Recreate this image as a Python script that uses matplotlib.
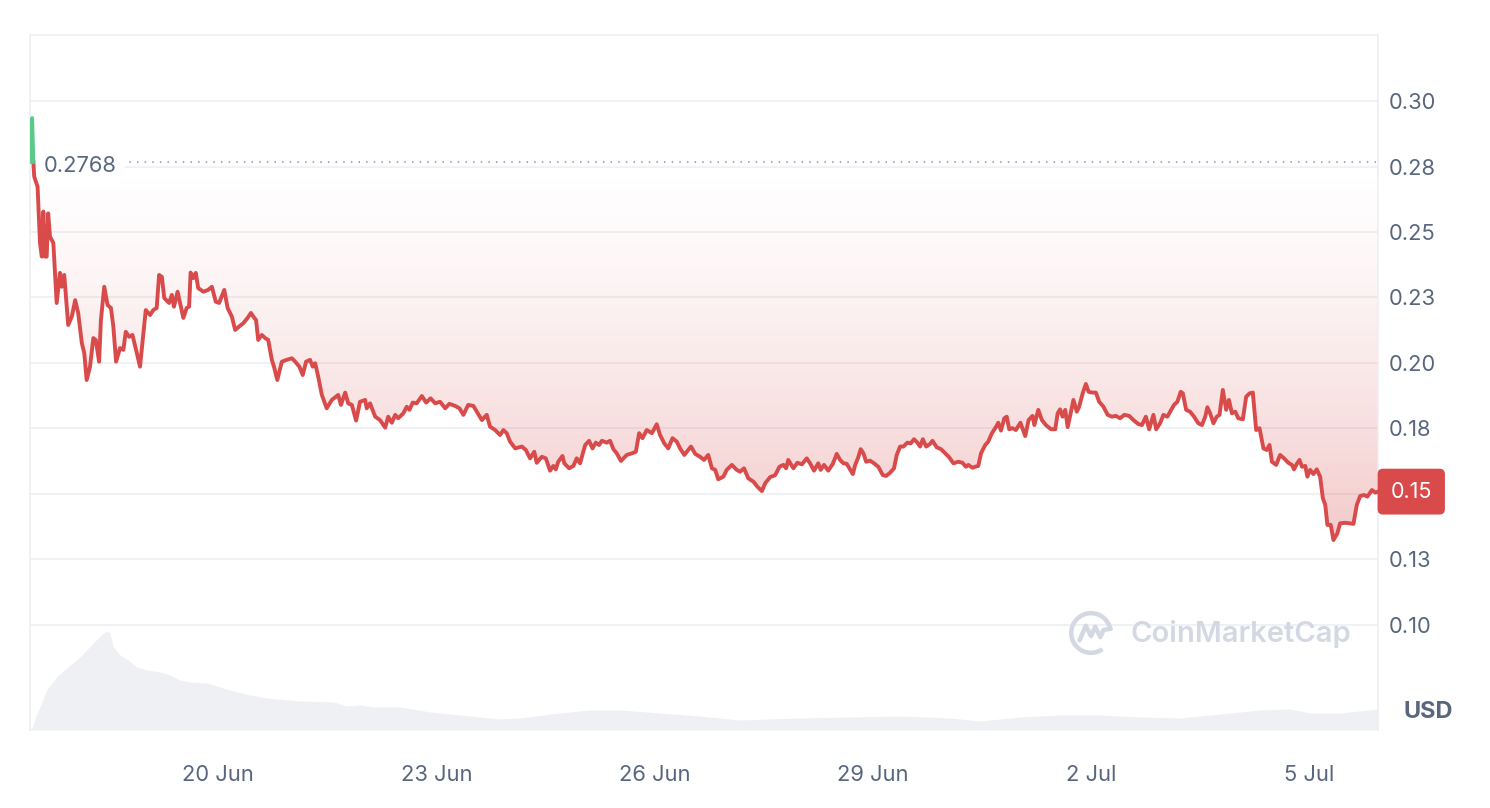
import numpy as np
import pandas as pd
import matplotlib
matplotlib.use("Agg")
import matplotlib.pyplot as plt
import matplotlib.dates as mdates
from matplotlib.path import Path
from matplotlib.patches import Arc

plt.rcParams['font.family'] = ['Inter', 'DejaVu Sans']

# price series: hours after 2024-06-17 00:00, price in USD
start = pd.Timestamp('2024-06-17')
hours = [
    9.9, 10.6, 11.0, 11.3, 12.4, 13.2, 13.8, 14.3, 14.9, 15.4, 15.9, 16.5, 17.6, 18.7, 19.8, 20.4,
    21.2, 22.5, 23.7, 24.8, 25.8, 27.0, 27.8, 28.6, 29.7, 30.8, 31.6, 32.7, 33.3, 34.4, 35.5, 36.6,
    37.4, 38.3, 39.6, 40.7, 41.5, 42.6, 43.7, 44.9, 46.2, 47.0, 48.1, 49.5, 50.6, 51.7, 52.5, 53.4,
    54.2, 55.8, 56.7, 57.4, 58.6, 60.5, 61.6, 62.4, 62.9, 63.8, 64.6, 65.4, 67.1, 68.7, 69.9, 71.2,
    72.3, 74.0, 75.1, 76.5, 77.6, 78.9, 80.3, 81.7, 82.8, 83.9,
    84.5, 85.2, 86.4, 87.5, 88.5, 89.7, 90.4, 91.5, 93.0, 94.6, 96.3, 97.4, 98.8, 99.9, 101.0, 102.3,
    103.2, 104.0, 105.0, 106.2, 107.8, 109.5, 111.6, 112.5, 113.9, 114.9, 116.1, 117.5, 118.8, 120.5,
    121.0, 122.1, 123.8, 125.4, 127.1, 128.1, 129.3, 130.4, 131.4, 133.1, 134.2, 135.1, 136.2, 137.5,
    139.2, 140.6, 142.1, 143.6, 145.2, 146.9, 148.3, 150.2, 151.6, 152.9, 154.5, 156.2,
    159.0, 160.6, 161.7, 163.4, 165.0, 166.1, 167.2, 168.3, 170.0, 172.2, 173.5, 174.9, 176.3, 177.1,
    178.8, 180.1, 181.5, 182.6, 183.4, 184.2, 185.6, 186.2, 187.8, 189.2, 190.3, 191.4, 193.1, 194.4,
    195.5, 196.6, 197.7, 198.6, 200.2, 201.3, 202.4, 203.5, 204.9, 206.8, 208.5, 209.8, 210.9, 212.0,
    213.4, 215.1, 216.7, 217.8, 219.2, 220.5, 221.9, 223.3, 224.4, 225.8, 228.0, 229.4,
    231.0, 232.3, 233.7, 234.9, 236.0, 237.0, 238.7, 239.8, 241.5, 243.1, 244.2, 245.5, 246.9, 248.6,
    249.9, 251.4, 252.5, 254.1, 255.8, 257.2, 258.5, 259.4, 260.1, 261.8, 263.1, 264.6, 266.2, 267.3,
    268.6, 270.0, 270.8, 271.9, 273.3, 274.8, 276.1, 277.2, 278.3, 279.4, 280.5, 281.4, 282.2, 283.2,
    284.0, 284.9, 285.8, 287.1, 288.4, 289.8, 291.3, 292.4, 293.7, 295.0, 295.9, 297.0, 298.1, 299.4,
    300.5, 301.6, 302.7, 303.6, 304.5, 305.6, 306.9,
    307.7, 309.1, 310.5, 311.9, 313.2, 314.6, 316.2, 317.6, 318.7, 319.5, 320.9, 321.8, 322.8, 323.7,
    325.1, 326.1, 327.3, 328.6, 329.4, 330.3, 331.4, 332.2, 333.0, 334.1, 335.2, 336.7, 338.3, 339.4,
    340.7, 341.3, 342.6, 343.8, 345.1, 346.8, 348.2, 349.0, 349.8, 350.6, 351.5, 352.3, 353.4, 354.2,
    355.3, 356.1, 357.2, 358.3, 359.2, 360.3, 361.6, 362.7, 364.1, 365.5, 366.9, 368.2, 369.6, 371.0,
    372.6, 374.0, 375.6, 376.8, 378.1, 379.2,
    380.6, 381.5, 382.8, 383.9, 385.2, 386.3, 387.4, 388.5, 389.6, 390.3, 391.4, 392.7, 394.0, 395.4,
    396.6, 397.7, 398.4, 399.3, 400.4, 401.5, 402.4, 403.5, 404.6, 405.5, 406.5, 407.6, 408.6, 410.1,
    411.2, 412.3, 413.4, 414.5, 415.6, 416.9, 418.0, 418.9, 419.7, 421.1, 422.4, 423.7, 425.1, 426.3,
    427.0, 427.9, 428.8, 429.6, 430.7, 431.4, 432.3, 433.4, 434.5, 435.6, 436.5, 437.3, 438.0, 439.1,
    440.0, 441.3, 442.2, 443.9, 445.3, 446.6, 447.7, 448.8, 450.1, 451.2, 452.7, 453.8, 454.7,
]
prices = [
    0.2768, 0.2935, 0.2768, 0.2711, 0.2673, 0.2458, 0.2406, 0.2578, 0.2406, 0.2406, 0.2571, 0.2482,
    0.2458, 0.2229, 0.2344, 0.2291, 0.2336, 0.2145, 0.2177, 0.2240, 0.2191, 0.2076, 0.2038, 0.1935,
    0.1986, 0.2095, 0.2088, 0.2005, 0.2164, 0.2291, 0.2221, 0.2210, 0.2139, 0.2005, 0.2057, 0.2050,
    0.2119, 0.2100, 0.2107, 0.2050, 0.1986, 0.2076, 0.2202, 0.2183, 0.2202, 0.2210, 0.2336, 0.2329,
    0.2248, 0.2229, 0.2260, 0.2215, 0.2272, 0.2172, 0.2210, 0.2215, 0.2345, 0.2324, 0.2344, 0.2286,
    0.2272, 0.2279, 0.2291, 0.2234, 0.2229, 0.2279, 0.2210, 0.2177, 0.2126, 0.2139, 0.2152, 0.2172,
    0.2191, 0.2172,
    0.2164, 0.2088, 0.2107, 0.2095, 0.2088, 0.2012, 0.1986, 0.1935, 0.2005, 0.2012, 0.2018, 0.2005,
    0.1986, 0.1954, 0.2005, 0.2012, 0.1986, 0.1999, 0.1948, 0.1878, 0.1827, 0.1859, 0.1878, 0.1840,
    0.1887, 0.1846, 0.1840, 0.1780, 0.1852, 0.1859, 0.1827, 0.1846, 0.1795, 0.1782, 0.1753, 0.1795,
    0.1772, 0.1802, 0.1789, 0.1808, 0.1833, 0.1821, 0.1849, 0.1846, 0.1874, 0.1849, 0.1865, 0.1846,
    0.1852, 0.1827, 0.1844, 0.1836, 0.1827, 0.1802, 0.1840, 0.1836,
    0.1782, 0.1802, 0.1757, 0.1744, 0.1725, 0.1744, 0.1732, 0.1700, 0.1674, 0.1681, 0.1668, 0.1636,
    0.1661, 0.1619, 0.1642, 0.1636, 0.1589, 0.1607, 0.1594, 0.1623, 0.1645, 0.1617, 0.1598, 0.1607,
    0.1636, 0.1617, 0.1687, 0.1703, 0.1674, 0.1696, 0.1687, 0.1703, 0.1696, 0.1703, 0.1671, 0.1655,
    0.1626, 0.1649, 0.1655, 0.1661, 0.1732, 0.1713, 0.1744, 0.1732, 0.1766, 0.1725, 0.1693, 0.1674,
    0.1713, 0.1700, 0.1674, 0.1649, 0.1681, 0.1653,
    0.1642, 0.1630, 0.1649, 0.1598, 0.1592, 0.1556, 0.1566, 0.1592, 0.1611, 0.1592, 0.1585, 0.1598,
    0.1560, 0.1547, 0.1528, 0.1511, 0.1541, 0.1564, 0.1572, 0.1604, 0.1611, 0.1598, 0.1630, 0.1598,
    0.1619, 0.1613, 0.1636, 0.1617, 0.1589, 0.1617, 0.1592, 0.1611, 0.1589, 0.1615, 0.1653, 0.1630,
    0.1617, 0.1615, 0.1594, 0.1576, 0.1611, 0.1640, 0.1671, 0.1655, 0.1623, 0.1627, 0.1617, 0.1604,
    0.1572, 0.1569, 0.1581, 0.1598, 0.1649, 0.1681, 0.1681, 0.1696, 0.1693, 0.1709, 0.1696, 0.1681,
    0.1709, 0.1681, 0.1691,
    0.1703, 0.1678, 0.1671, 0.1655, 0.1640, 0.1617, 0.1623, 0.1619, 0.1604, 0.1611, 0.1600, 0.1604,
    0.1607, 0.1655, 0.1687, 0.1700, 0.1732, 0.1755, 0.1772, 0.1742, 0.1789, 0.1795, 0.1747, 0.1751,
    0.1744, 0.1772, 0.1721, 0.1782, 0.1798, 0.1763, 0.1821, 0.1782, 0.1763, 0.1747, 0.1747, 0.1808,
    0.1823, 0.1795, 0.1821, 0.1755, 0.1814, 0.1859, 0.1814, 0.1833, 0.1882, 0.1920, 0.1890, 0.1887,
    0.1887, 0.1852, 0.1833, 0.1802, 0.1795, 0.1798, 0.1789, 0.1802, 0.1798, 0.1782, 0.1767, 0.1763,
    0.1795, 0.1747,
    0.1802, 0.1747, 0.1770, 0.1802, 0.1795, 0.1818, 0.1840, 0.1852, 0.1890, 0.1884, 0.1821, 0.1814,
    0.1795, 0.1770, 0.1763, 0.1795, 0.1831, 0.1808, 0.1770, 0.1795, 0.1802, 0.1897, 0.1821, 0.1859,
    0.1808, 0.1814, 0.1789, 0.1785, 0.1871, 0.1884, 0.1887, 0.1744, 0.1751, 0.1674, 0.1668, 0.1687,
    0.1623, 0.1611, 0.1649, 0.1636, 0.1619, 0.1611, 0.1594, 0.1615, 0.1630, 0.1604, 0.1607, 0.1566,
    0.1592, 0.1576, 0.1594, 0.1566, 0.1484, 0.1458, 0.1382, 0.1382, 0.1324, 0.1350, 0.1388, 0.1390,
    0.1388, 0.1386, 0.1458, 0.1492, 0.1496, 0.1490, 0.1515, 0.1505, 0.1509,
]

# volume (relative units), hours after start
vol_hours = [
    9.9, 10.5, 11.6, 13.2, 15.4, 18.7, 22.0, 26.4, 30.8, 34.1, 35.4, 36.3, 37.4, 39.6, 42.3, 45.1,
    48.4, 52.8, 56.1, 59.4, 62.7, 68.2, 72.6, 77.0, 82.5, 88.0, 99.0, 110.0, 114.4, 118.8, 123.2,
    132.0, 141.9, 155.0, 165.0, 171.6, 181.5, 194.7, 204.6, 217.8, 231.0, 244.0, 264.0, 280.5,
    297.0, 313.5, 323.4, 336.6, 349.8, 363.0, 376.0, 389.4, 402.6, 415.8, 425.7, 432.3, 442.2, 454.7,
]
volumes = [
    1, 2, 12, 23, 40, 53, 62, 73, 87, 97, 99, 97, 83, 75, 70, 63,
    60, 58, 55, 50, 48, 47, 43, 39, 35, 32, 29, 28, 24, 25, 23,
    23, 18, 14, 11, 12, 16, 20, 20, 17, 14, 10, 12, 13,
    14, 12, 9, 13, 15, 15, 13, 12, 16, 20, 21, 17, 17, 21,
]

open_price = 0.2768
last_price = 0.1509
ytick_vals = [0.100, 0.125, 0.150, 0.175, 0.200, 0.225, 0.250, 0.275, 0.300]
# the 0.15 tick sits under the current-price badge
ytick_labels = ['0.10', '0.13', '', '0.18', '0.20', '0.23', '0.25', '0.28', '0.30']
xtick_dates = ['2024-06-20', '2024-06-23', '2024-06-26', '2024-06-29', '2024-07-02', '2024-07-05']
xtick_labels = ['20 Jun', '23 Jun', '26 Jun', '29 Jun', '2 Jul', '5 Jul']

red = '#d94a4b'
green = '#5cc98a'
grey_text = '#58667e'
grid_c = '#eeeff2'
fs = 15.8

t = mdates.date2num(start + pd.to_timedelta(hours, unit='h'))
tv = mdates.date2num(start + pd.to_timedelta(vol_hours, unit='h'))
p = np.array(prices)

fig = plt.figure(figsize=(14.9, 8.08), dpi=100)
fig.patch.set_facecolor('white')
pos = [30 / 1490, 78 / 808, 1348 / 1490, 695 / 808]
ax2 = fig.add_axes(pos)
ax = fig.add_axes(pos, sharex=ax2)
ax.patch.set_visible(False)

# volume
ax2.fill_between(tv, volumes, 0, color='#eff0f4', lw=0)
ax2.set_ylim(0, 695)
ax2.set_yticks([])
for s in ax2.spines.values():
    s.set_visible(False)
ax2.tick_params(axis='x', length=0, labelbottom=False)

x0 = mdates.date2num(start + pd.Timedelta(hours=9.9))
x1 = mdates.date2num(start + pd.Timedelta(hours=454.7))
ax.set_xlim(x0, x1)
ax.set_ylim(0.0599, 0.3252)

# gradient fill between the line and the open price
ys = np.linspace(0.0599, open_price, 300)
f = np.clip((open_price - ys) / (open_price - 0.13), 0, 1)
grad = np.zeros((300, 1, 4))
grad[..., 0] = 0.85
grad[..., 1] = 0.29
grad[..., 2] = 0.29
grad[:, 0, 3] = 0.30 * f ** 1.4
im = ax.imshow(grad, extent=[x0, x1, 0.0599, open_price], origin='lower',
               aspect='auto', zorder=1, interpolation='bilinear')
verts = list(zip(t[2:], p[2:])) + [(t[-1], open_price), (t[2], open_price)]
clip = Path(verts + [verts[0]], closed=True)
im.set_clip_path(clip, transform=ax.transData)

# line
red_line = np.where(np.arange(len(p)) >= 2, p, np.nan)
green_line = np.where(np.arange(len(p)) <= 2, p, np.nan)
ax.plot(t, red_line, color=red, lw=2.8, solid_joinstyle='round', zorder=4)
ax.plot(t, green_line, color=green, lw=2.8, solid_joinstyle='round', zorder=4)

ax.axhline(open_price, color='#8a94a6', lw=1.1, linestyle=(0, (1, 4)), zorder=2)
ax.text((44 - 30) / 1348, open_price - 0.0016, '0.2768', transform=ax.get_yaxis_transform(which='grid'),
        fontsize=fs, color=grey_text, ha='left', va='center', zorder=3,
        bbox=dict(boxstyle='round,pad=0.35,rounding_size=0.5', fc='white', ec='none'))
ax.annotate('0.15', xy=(1.0, last_price), xycoords=('axes fraction', 'data'),
            xytext=(9, 0), textcoords='offset points', ha='left', va='center',
            fontsize=15.5, color='white', zorder=6, annotation_clip=False,
            bbox=dict(boxstyle='round,pad=0.6,rounding_size=0.25', fc=red, ec='none'))

# axes styling
ax.set_yticks(ytick_vals)
ax.set_yticklabels(ytick_labels)
ax.yaxis.tick_right()
ax.tick_params(axis='y', length=0, pad=8, labelsize=fs, labelcolor=grey_text)
ax.set_xticks(mdates.date2num(pd.to_datetime(xtick_dates)))
ax.set_xticklabels(xtick_labels)
ax.tick_params(axis='x', length=0, pad=25, labelsize=fs, labelcolor=grey_text)
ax.grid(axis='y', color=grid_c, lw=1.2, zorder=0)
ax.set_axisbelow(True)
for side in ['left', 'top', 'right']:
    ax.spines[side].set_color(grid_c)
    ax.spines[side].set_linewidth(1.2)
ax.spines['bottom'].set_visible(False)

fig.text(1428 / 1490, 1 - 712 / 808, 'USD', fontsize=17, fontweight='bold', color=grey_text,
         ha='center', va='center')

# watermark
wm = '#d3d8e3'
fig.text(1130 / 1490, 1 - 634 / 808, 'CoinMarketCap', fontsize=21, fontweight='semibold',
         color=wm, ha='left', va='center')
lax = fig.add_axes([1066 / 1490, 1 - 658 / 808, 50 / 1490, 50 / 808])
lax.set_xlim(-1.2, 1.2)
lax.set_ylim(-1.2, 1.2)
lax.set_aspect('equal')
lax.axis('off')
lax.add_patch(Arc((0, 0), 1.9, 1.9, theta1=15, theta2=305, lw=3.2, color=wm))
lax.plot([-0.55, -0.25, 0.0, 0.2, 0.45, 0.6, 0.95], [-0.35, 0.35, -0.15, 0.3, -0.2, 0.15, 0.2],
         color=wm, lw=3.2, solid_capstyle='round', solid_joinstyle='round')

fig.savefig('out.png', dpi=100, facecolor='white')
